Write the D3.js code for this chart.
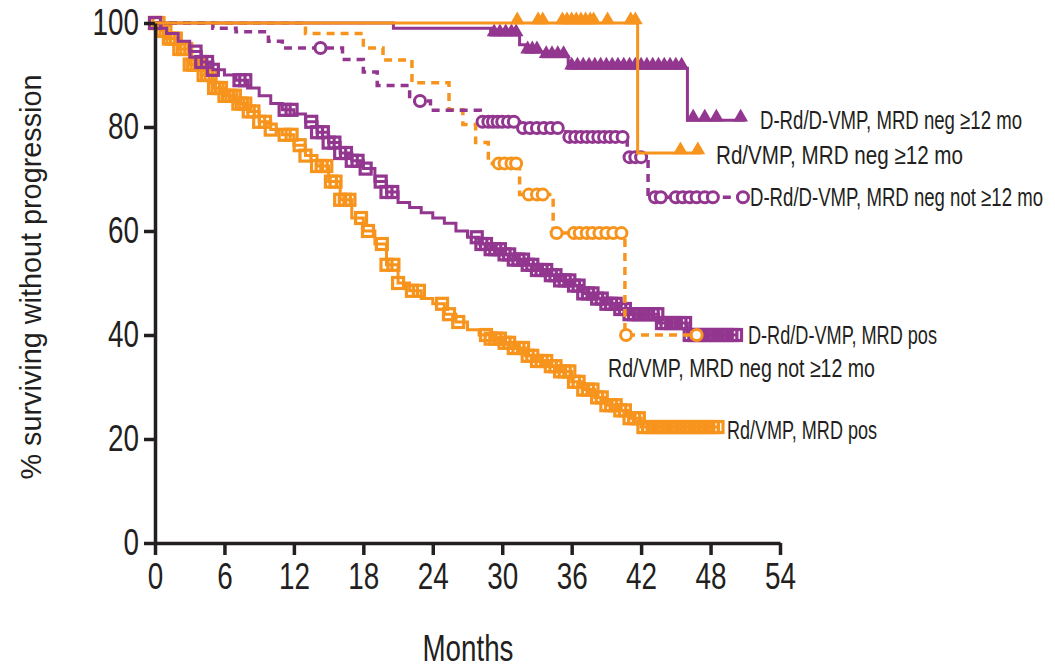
<!DOCTYPE html>
<html>
<head>
<meta charset="utf-8">
<script src="https://cdn.jsdelivr.net/npm/d3@7"></script>
<style>
  body { margin: 0; background: #fff; }
  text { font-family: "Liberation Sans", Arial, sans-serif; fill: #231f20; }
</style>
</head>
<body>
<div id="chart"></div>
<script>
// colours used in the figure
const purple = "#92368f";
const orange = "#f7941d";

// axis ticks
const xTicks = [0, 6, 12, 18, 24, 30, 36, 42, 48, 54];
const yTicks = [0, 20, 40, 60, 80, 100];

// D-Rd/D-VMP, MRD neg >=12 mo
const drdNeg12Months = [0, 20.6, 29, 31.5, 32, 33.5, 35.7, 46, 51];
const drdNeg12Surv   = [100, 99, 97.7, 95.8, 94.4, 93.5, 91.3, 81.3, 81.3];
const drdNeg12Censor = [29.3, 29.8, 30.3, 30.8, 31.2, 32.2, 32.6, 33, 33.8, 34.3, 34.8, 35.3, 36, 36.5, 37, 37.5,
  38, 38.5, 39, 39.5, 40, 40.5, 41, 41.5, 42, 42.5, 43, 43.5, 44, 44.5, 45, 45.5, 46.5, 47.5, 48.5, 50.6];

// Rd/VMP, MRD neg >=12 mo
const rdNeg12Months = [0, 41.7, 47.2];
const rdNeg12Surv   = [100, 75, 75];
const rdNeg12Censor = [31.3, 33.1, 33.5, 35.2, 35.6, 36, 36.4, 36.8, 37.2, 37.6, 37.9, 39.1, 41.1, 41.5, 45.4, 46.9];

// D-Rd/D-VMP, MRD neg not >=12 mo
const drdNegNotMonths = [0, 5, 7, 9.8, 11, 16.2, 18, 19.2, 22, 23.8, 28.1, 31.5, 35.5, 40.8, 42.6, 50.8];
const drdNegNotSurv   = [100, 99, 98.3, 96.5, 95.2, 93, 90.6, 88, 85, 83.2, 81, 79.8, 78.1, 74.2, 66.5, 66.5];
const drdNegNotCensor = [14.3, 22.9, 28.3, 28.8, 29.2, 29.6, 30, 30.5, 31, 31.8, 32.4, 33, 33.6, 34.2, 34.8, 35.8,
  36.3, 36.8, 37.3, 37.8, 38.3, 38.8, 39.3, 39.8, 40.4, 41, 41.5, 42, 43.2, 43.7, 45, 45.6, 46.2, 46.8, 47.5, 48.2, 50.8];

// Rd/VMP, MRD neg not >=12 mo
const rdNegNotMonths = [0, 13, 18, 19.7, 22.2, 25.4, 26.6, 27.7, 28.8, 31.5, 34.4, 40.6, 46.8];
const rdNegNotSurv   = [100, 98, 95.2, 92.9, 88.5, 83.3, 80.5, 77, 73, 67, 59.6, 40, 40];
const rdNegNotCensor = [29.7, 30.2, 30.8, 31.2, 32.3, 33, 33.5, 34.7, 36.2, 36.7, 37.3, 37.8, 38.4, 39, 39.6, 40.3, 40.7, 46.8];

// D-Rd/D-VMP, MRD pos
const drdPosMonths = [0, 0.5, 1, 2, 3, 4, 5, 6, 7, 8, 9, 10, 11, 12, 13, 14, 15, 16, 17, 18, 19, 20, 21, 22, 23, 24,
  25, 26, 27, 28, 29, 30, 31, 32, 33, 34, 35, 36, 37, 38, 39, 40, 41, 43.5, 46, 50.3];
const drdPosSurv = [100, 99, 98, 96.5, 94.5, 92.5, 91, 90, 89, 87.5, 86, 84.5, 83.3, 82.5, 81, 79, 77, 75, 73.5, 72,
  69.5, 67.5, 65.5, 64.5, 63.5, 62.5, 61.5, 60, 58.8, 57.5, 56.5, 55.5, 54.5, 53.5, 52.5, 51.5, 50.5, 49.5, 48, 47,
  46, 45, 44, 42.3, 40, 40];
const drdPosCensor = [0, 3.5, 4, 4.5, 5, 7.3, 7.8, 11.2, 11.8, 13.5, 14, 14.5, 15, 15.5, 16, 16.5, 17, 17.5, 18.2,
  19.5, 20, 20.5, 27.8, 28.2, 28.6, 29, 29.4, 29.8, 30.2, 30.6, 31, 31.4, 31.8, 32.2, 32.6, 33, 33.4, 33.8, 34.2,
  34.6, 35, 35.4, 35.8, 36.2, 36.6, 37, 37.4, 37.8, 38.2, 38.6, 39, 39.4, 39.8, 40.2, 40.6, 41, 41.4, 41.8, 42.2,
  42.6, 43, 43.4, 43.8, 44.2, 44.6, 45, 45.4, 45.8, 46.2, 46.6, 47, 47.4, 47.8, 48.2, 48.6, 49, 49.4, 49.8, 50.2];

// Rd/VMP, MRD pos
const rdPosMonths = [0, 0.5, 1, 2, 3, 4, 5, 6, 7, 8, 9, 10, 11, 12, 13, 14, 15, 16, 17, 18, 19, 20, 21, 22, 23, 24,
  25, 26, 27, 28, 29, 30, 31, 32, 33, 34, 35, 36, 37, 38, 39, 40, 41, 42, 48.8];
const rdPosSurv = [100, 98.5, 97, 95, 92, 90, 87.5, 86, 84.5, 83, 81, 79.5, 78.5, 76.5, 74.5, 72.5, 69.5, 66, 62.5,
  60, 57.5, 53.5, 50, 48.5, 47, 46, 44, 42.5, 41, 40, 39.3, 38.5, 37.5, 36, 35, 34, 33, 31, 29.5, 28, 26.5, 25.5,
  24, 22.3, 22.3];
const rdPosCensor = [0, 0.3, 0.6, 0.9, 1.2, 1.5, 1.8, 2.1, 2.4, 2.7, 3, 3.3, 3.6, 3.9, 4.2, 4.5, 4.8, 5.1, 5.4, 5.7,
  6, 6.3, 6.6, 6.9, 7.2, 7.5, 7.8, 8.1, 8.5, 9, 9.5, 10, 11.2, 11.8, 12.5, 13, 14, 14.4, 14.8, 15.2, 15.6, 16, 16.4,
  16.8, 17.8, 18.4, 19.6, 20, 20.6, 21, 22.2, 22.8, 24.8, 25.4, 26.2, 28.6, 29, 29.4, 29.8, 30.2, 30.6, 31, 31.4,
  31.8, 32.2, 32.6, 33, 33.4, 33.8, 34.2, 34.6, 35, 35.4, 35.8, 36.2, 36.6, 37, 37.4, 37.8, 38.2, 38.6, 39, 39.4,
  39.8, 40.2, 40.6, 41, 41.4, 41.8, 42.2, 42.6, 43, 43.4, 43.8, 44.2, 44.6, 45, 45.4, 45.8, 46.2, 46.6, 47, 47.4,
  47.8, 48.2, 48.6];

// label position and squeezed width (the original uses a condensed face)
const series = [
  {name: "Rd/VMP, MRD pos", months: rdPosMonths, surv: rdPosSurv, censor: rdPosCensor,
   color: orange, dash: null, mark: "square", lx: 727, ly: 430, lw: 150},
  {name: "D-Rd/D-VMP, MRD pos", months: drdPosMonths, surv: drdPosSurv, censor: drdPosCensor,
   color: purple, dash: null, mark: "square", lx: 748, ly: 335, lw: 189},
  {name: "Rd/VMP, MRD neg not \u226512 mo", months: rdNegNotMonths, surv: rdNegNotSurv, censor: rdNegNotCensor,
   color: orange, dash: "8,6", mark: "circle", lx: 608, ly: 368, lw: 267},
  {name: "D-Rd/D-VMP, MRD neg not \u226512 mo", months: drdNegNotMonths, surv: drdNegNotSurv, censor: drdNegNotCensor,
   color: purple, dash: "8,6", mark: "circle", lx: 750, ly: 197, lw: 293},
  {name: "D-Rd/D-VMP, MRD neg \u226512 mo", months: drdNeg12Months, surv: drdNeg12Surv, censor: drdNeg12Censor,
   color: purple, dash: null, mark: "triangle", lx: 760, ly: 120, lw: 262},
  {name: "Rd/VMP, MRD neg \u226512 mo", months: rdNeg12Months, surv: rdNeg12Surv, censor: rdNeg12Censor,
   color: orange, dash: null, mark: "triangle", lx: 716, ly: 155, lw: 247}
];

let width = 1055, height = 669;

let svg = d3.select("#chart")
    .append("svg")
        .attr("width", width)
        .attr("height", height);

let x = d3.scaleLinear()
    .domain([0, 54])
    .range([155, 780]);

let y = d3.scaleLinear()
    .domain([0, 100])
    .range([543, 23]);

// value of a step curve at time t
function survAt(s, t) {
    let v = s.surv[0];
    for (let i = 0; i < s.months.length; i++) {
        if (s.months[i] <= t) v = s.surv[i];
    }
    return v;
}

let line = d3.line()
    .x(d => x(d[0]))
    .y(d => y(d[1]))
    .curve(d3.curveStepAfter);

let plot = svg.append("g");

series.forEach(s => {
    let pts = s.months.map((m, i) => [m, s.surv[i]]);
    plot.append("path")
        .datum(pts)
        .attr("d", line)
        .attr("fill", "none")
        .attr("stroke", s.color)
        .attr("stroke-width", s.dash ? 3.5 : 3)
        .attr("stroke-dasharray", s.dash);

    let g = plot.append("g");
    if (s.mark === "square") {
        g.selectAll("rect")
            .data(s.censor)
            .enter()
            .append("rect")
                .attr("x", d => x(d) - 5.5)
                .attr("y", d => y(survAt(s, d)) - 5.5)
                .attr("width", 11)
                .attr("height", 11)
                .attr("fill", "none")
                .attr("stroke", s.color)
                .attr("stroke-width", 3.2);
    } else if (s.mark === "circle") {
        g.selectAll("circle")
            .data(s.censor)
            .enter()
            .append("circle")
                .attr("cx", d => x(d))
                .attr("cy", d => y(survAt(s, d)))
                .attr("r", 5.5)
                .attr("fill", "#fff")
                .attr("stroke", s.color)
                .attr("stroke-width", 3);
    } else {
        let tri = d3.symbol().type(d3.symbolTriangle).size(95);
        g.selectAll("path")
            .data(s.censor)
            .enter()
            .append("path")
                .attr("d", tri)
                .attr("transform", d => "translate(" + x(d) + "," + (y(survAt(s, d)) - 3) + ")")
                .attr("fill", s.color);
    }

    svg.append("text")
        .attr("x", s.lx)
        .attr("y", s.ly)
        .attr("dy", "0.35em")
        .attr("textLength", s.lw)
        .attr("lengthAdjust", "spacingAndGlyphs")
        .style("font-size", "26px")
        .text(s.name);
});

// axes
let xAxis = svg.append("g")
    .attr("transform", "translate(0,543)")
    .call(d3.axisBottom(x).tickValues(xTicks).tickSize(12).tickSizeOuter(0).tickPadding(8));

let yAxis = svg.append("g")
    .attr("transform", "translate(155,0)")
    .call(d3.axisLeft(y).tickValues(yTicks).tickSize(11).tickSizeOuter(0).tickPadding(5));

[xAxis, yAxis].forEach(a => {
    a.selectAll("path, line").attr("stroke", "#231f20").attr("stroke-width", 3.5);
    a.selectAll("text")
        .style("font-size", "37px")
        .style("font-family", "'Liberation Sans', Arial, sans-serif")
        .attr("fill", "#231f20")
        .attr("textLength", d => String(d).length * 15.5)
        .attr("lengthAdjust", "spacingAndGlyphs");
});

svg.append("text")
    .attr("x", 468)
    .attr("y", 648)
    .attr("text-anchor", "middle")
    .attr("dy", "0.35em")
    .attr("textLength", 91)
    .attr("lengthAdjust", "spacingAndGlyphs")
    .style("font-size", "36px")
    .text("Months");

svg.append("text")
    .attr("transform", "translate(30,277) rotate(-90)")
    .attr("text-anchor", "middle")
    .attr("dy", "0.35em")
    .attr("textLength", 405)
    .attr("lengthAdjust", "spacingAndGlyphs")
    .style("font-size", "30px")
    .text("% surviving without progression");
</script>
</body>
</html>
